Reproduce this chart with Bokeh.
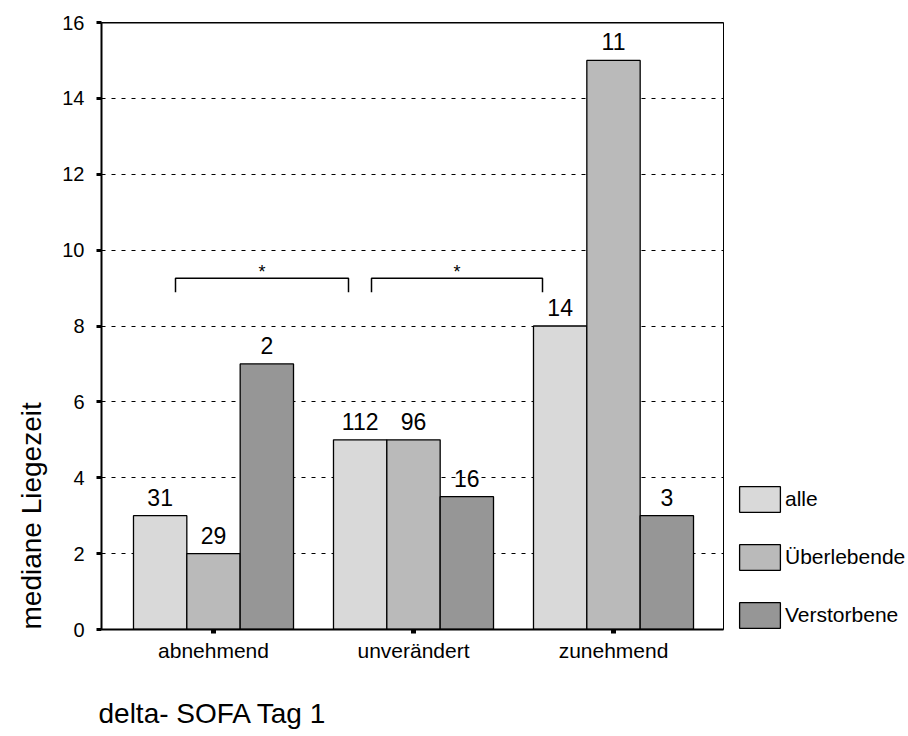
from bokeh.plotting import figure
from bokeh.models import (Range1d, FixedTicker, Legend, LegendItem, LabelSet,
                          ColumnDataSource, Span, Title)
from bokeh.transform import dodge
from bokeh.core.properties import value
from bokeh.embed import file_html
from bokeh.resources import INLINE

# ---- data ----
categories = ["abnehmend", "unverändert", "zunehmend"]
series = ["alle", "Überlebende", "Verstorbene"]
alle = [3, 5, 8]
ueberlebende = [2, 5, 15]
verstorbene = [7, 3.5, 3]
n_alle = ["31", "112", "14"]
n_ueberlebende = ["29", "96", "11"]
n_verstorbene = ["2", "16", "3"]
y_ticks = [0, 2, 4, 6, 8, 10, 12, 14, 16]
colors = ["#d9d9d9", "#bababa", "#969696"]

# significance brackets (annotation, data units)
br_x0 = [-0.19, 0.79]
br_x1 = [0.675, 1.645]
br_top = 9.26
br_drop = 8.89
br_text = ["*", "*"]

FONT = "Liberation Sans"
BW = 0.2667

xs = list(range(len(categories)))
src = ColumnDataSource(dict(x=xs, alle=alle, ueb=ueberlebende, ver=verstorbene,
                            na=n_alle, nu=n_ueberlebende, nv=n_verstorbene))

p = figure(frame_width=622, frame_height=607, output_backend="svg",
           toolbar_location=None,
           x_range=Range1d(-0.56, 2.55), y_range=Range1d(0, 16),
           min_border_left=101, min_border_right=170, min_border_top=22,
           min_border_bottom=91)
p.background_fill_color = "white"
p.border_fill_color = "white"
p.outline_line_color = "black"
p.outline_line_width = 1

p.xgrid.grid_line_color = None
p.ygrid.ticker = FixedTicker(ticks=y_ticks)
p.ygrid.grid_line_color = "black"
p.ygrid.grid_line_dash = "4 6"
p.ygrid.grid_line_width = 1

r_a = p.vbar(x=dodge("x", -BW, range=p.x_range), top="alle", width=BW, source=src,
             fill_color=colors[0], line_color="black", line_width=1.3)
r_u = p.vbar(x=dodge("x", 0, range=p.x_range), top="ueb", width=BW, source=src,
             fill_color=colors[1], line_color="black", line_width=1.3)
r_v = p.vbar(x=dodge("x", BW, range=p.x_range), top="ver", width=BW, source=src,
             fill_color=colors[2], line_color="black", line_width=1.3)

for off, col, txt in [(-BW, "alle", "na"), (0, "ueb", "nu"), (BW, "ver", "nv")]:
    p.add_layout(LabelSet(x=dodge("x", off, range=p.x_range), y=col, text=txt,
                          source=src, text_align="center",
                          text_baseline="alphabetic", y_offset=10,
                          text_font=value(FONT), text_font_size="23px",
                          text_color="black"))

# top border thicker
p.add_layout(Span(location=16, dimension="width", line_color="black", line_width=2))

# brackets
bsrc = ColumnDataSource(dict(
    xs=[[a, a, b, b] for a, b in zip(br_x0, br_x1)],
    ys=[[br_drop, br_top, br_top, br_drop] for _ in br_x0],
    xm=[(a + b) / 2 for a, b in zip(br_x0, br_x1)],
    ym=[br_top for _ in br_x0],
    t=br_text))
p.multi_line(xs="xs", ys="ys", source=bsrc, line_color="black", line_width=1.5)
p.add_layout(LabelSet(x="xm", y="ym", text="t", source=bsrc, text_align="center",
                      text_baseline="alphabetic", y_offset=0,
                      text_font=value(FONT), text_font_size="18px",
                      text_color="black"))

# axes
p.yaxis.ticker = FixedTicker(ticks=y_ticks)
p.yaxis.axis_line_width = 2
p.yaxis.axis_line_color = "black"
p.yaxis.major_tick_in = 0
p.yaxis.major_tick_out = 5
p.yaxis.major_tick_line_width = 3
p.yaxis.minor_tick_line_color = None
p.yaxis.major_label_standoff = 12
p.yaxis.major_label_text_font = FONT
p.yaxis.major_label_text_font_size = "20px"
p.yaxis.major_label_text_color = "black"

p.xaxis.ticker = FixedTicker(ticks=xs)
p.xaxis.major_label_overrides = {i: c for i, c in enumerate(categories)}
p.xaxis.axis_line_width = 2
p.xaxis.axis_line_color = "black"
p.xaxis.major_tick_in = 0
p.xaxis.major_tick_out = 4
p.xaxis.major_tick_line_width = 5
p.xaxis.minor_tick_line_color = None
p.xaxis.major_label_standoff = 5
p.xaxis.major_label_text_font = FONT
p.xaxis.major_label_text_font_size = "21px"
p.xaxis.major_label_text_color = "black"

# axis titles as side titles (placed like the original)
p.add_layout(Title(text="mediane Liegezeit", align="left", offset=0, standoff=25,
                   text_font=FONT, text_font_size="28px", text_font_style="normal",
                   text_color="black"), "left")
p.add_layout(Title(text="delta- SOFA Tag 1", align="left", offset=-3, standoff=63,
                   text_font=FONT, text_font_size="28px", text_font_style="normal",
                   text_color="black"), "below")

legend = Legend(items=[LegendItem(label=series[0], renderers=[r_a]),
                       LegendItem(label=series[1], renderers=[r_u]),
                       LegendItem(label=series[2], renderers=[r_v])],
                location=(11, -2), orientation="vertical",
                glyph_width=51, glyph_height=32, spacing=26, label_standoff=-7,
                padding=0, margin=0, border_line_color=None,
                background_fill_alpha=0, label_text_font=FONT,
                label_text_font_size="21px", label_text_color="black",
                label_height=26)
p.add_layout(legend, "right")

open("out.html", "w").write(file_html(p, INLINE))
